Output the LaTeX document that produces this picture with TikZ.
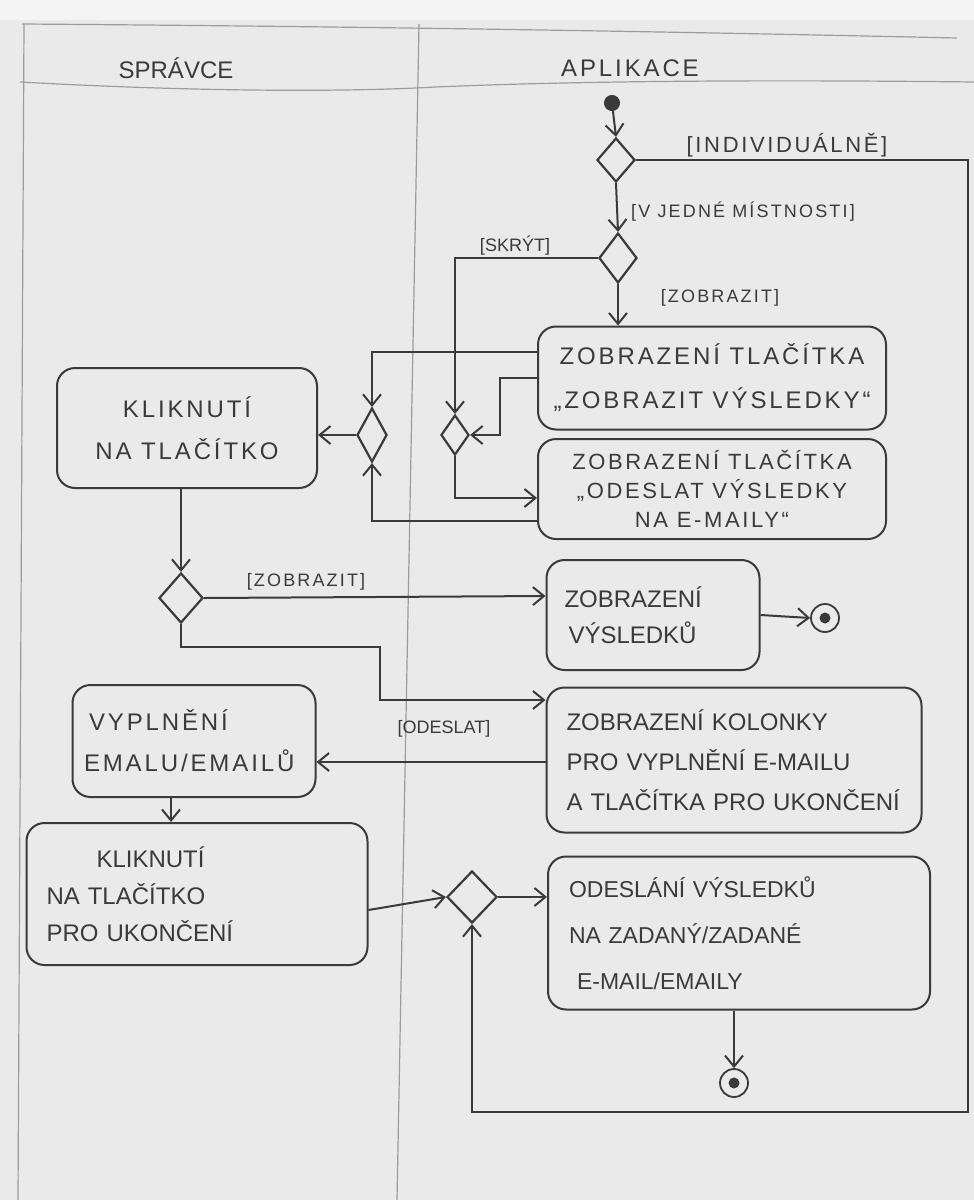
\documentclass[tikz,border=0pt]{standalone}
\usepackage{fontspec}
\setmainfont{Liberation Sans}
\newfontfamily\widehand[LetterSpace=12]{Liberation Sans}
\usetikzlibrary{shapes.geometric,arrows.meta,calc}
\definecolor{paper}{HTML}{EAEAEA}
\definecolor{paperedge}{HTML}{F4F4F4}
\definecolor{ink}{HTML}{3A3A3A}
\definecolor{lane}{HTML}{9C9C9C}
\tikzset{
  act/.style={draw=ink, line width=2pt, rounded corners=18pt, text=ink,
    font=\fontsize{24}{42}\selectfont, align=center, inner sep=0pt},
  decide/.style={shape=diamond, draw=ink, line width=2.2pt, inner sep=0pt},
  startnode/.style={circle, fill=ink, draw=ink, line width=1pt, minimum size=15pt, inner sep=0pt},
  endnode/.style={circle, draw=ink, line width=1.8pt, minimum size=28pt, inner sep=0pt,
    path picture={\fill[ink] (path picture bounding box.center) circle (5.5pt);}},
  flow/.style={draw=ink, line width=2pt, -{Straight Barb[length=11pt,width=18pt,line width=2pt]}},
  guard/.style={text=ink, font=\fontsize{18}{20}\selectfont, inner sep=1pt},
  lanetitle/.style={text=ink, font=\fontsize{24}{26}\selectfont},
  laneline/.style={draw=lane, line width=1.2pt}
}
\begin{document}
\begin{tikzpicture}[x=1pt,y=-1pt]
  % paper
  \fill[paper] (0,0) rectangle (974,1200);
  \fill[paperedge] (0,0) rectangle (974,20);
  \useasboundingbox (0,0) rectangle (974,1200);

  % swimlanes
  \draw[laneline] (22,24) .. controls (300,26) and (600,30) .. (957,38);
  \draw[laneline] (20,82) .. controls (200,92) and (350,92) .. (435,87)
                  .. controls (600,80) and (800,80) .. (974,82);
  \draw[laneline] (24,24) -- (18,1200);
  \draw[laneline] (419,24) -- (397,1200);
  \node[lanetitle] (laneA) at (176,68) {SPRÁVCE};
  \node[lanetitle] (laneB) at (630,68) {\widehand APLIKACE};

  % activities
  \node[act, minimum width=260pt, minimum height=120pt, font=\fontsize{24}{42}\widehand] (kn1) at (187,428)
       {KLIKNUTÍ\\NA TLAČÍTKO};
  \node[act, minimum width=348pt, minimum height=103pt, font=\fontsize{24}{44}\widehand] (b1) at (712,378)
       {ZOBRAZENÍ TLAČÍTKA\\„ZOBRAZIT VÝSLEDKY“};
  \node[act, minimum width=348pt, minimum height=100pt, font=\fontsize{22}{29}\widehand] (b2) at (712,489)
       {ZOBRAZENÍ TLAČÍTKA\\„ODESLAT VÝSLEDKY\\NA E-MAILY“};
  \node[act, minimum width=213pt, minimum height=110pt, text width=177pt, inner xsep=18pt,
        align=left, font=\fontsize{24}{36}\selectfont] (b3) at (653,615)
       {ZOBRAZENÍ\\\hspace*{4pt}VÝSLEDKŮ};
  \node[act, minimum width=375pt, minimum height=145pt, text width=335pt, inner xsep=20pt,
        align=left, font=\fontsize{24}{40}\selectfont] (b4) at (734,760)
       {ZOBRAZENÍ KOLONKY\\PRO VYPLNĚNÍ E-MAILU\\A TLAČÍTKA PRO UKONČENÍ};
  \node[act, minimum width=243pt, minimum height=112pt, text width=220pt, inner xsep=11.5pt,
        align=left, font=\fontsize{24}{41}\widehand] (vy) at (194,741)
       {\hspace*{5pt}VYPLNĚNÍ\\EMALU/EMAILŮ};
  \node[act, minimum width=341pt, minimum height=142pt, text width=301pt, inner xsep=20pt,
        align=left, font=\fontsize{24}{37}\selectfont] (kn2) at (197,894)
       {\hspace*{50pt}KLIKNUTÍ\\NA TLAČÍTKO\\PRO UKONČENÍ};
  \node[act, minimum width=382pt, minimum height=153pt, text width=340pt, inner xsep=21pt,
        align=left, font=\fontsize{23}{46}\selectfont] (b5) at (739,933)
       {ODESLÁNÍ VÝSLEDKŮ\\NA ZADANÝ/ZADANÉ\\\hspace*{8pt}E-MAIL/EMAILY};

  % decisions and merges
  \node[decide, minimum width=38pt, minimum height=44pt] (d1) at (616,160) {};
  \node[decide, minimum width=38pt, minimum height=50pt] (d2) at (618,258) {};
  \node[decide, minimum width=28pt, minimum height=40pt] (d3) at (455,435) {};
  \node[decide, minimum width=30pt, minimum height=54pt] (d4) at (372,435) {};
  \node[decide, minimum width=44pt, minimum height=50pt] (d5) at (181,598) {};
  \node[decide, minimum width=50pt, minimum height=52pt] (d6) at (472,897) {};

  % start and end
  \node[startnode] (s0) at (612,103) {};
  \node[endnode] (f1) at (825,618) {};
  \node[endnode] (f2) at (734,1083) {};

  % flows
  \draw[flow] (s0) -- (d1.north);
  \draw[flow] (d1.east) -| (968,1112) -| (d6.south);
  \node[guard, font=\fontsize{22}{24}\widehand] (gInd) at (787,145) {[INDIVIDUÁLNĚ]};
  \draw[flow] (d1.south) -- (d2.north);
  \node[guard, anchor=west, font=\fontsize{18}{20}\widehand] (gOne) at (630,212) {[V JEDNÉ MÍSTNOSTI]};
  \draw[flow] (d2.west) -| (d3.north);
  \node[guard] (gHide) at (515,246) {[SKRÝT]};
  \draw[flow] (d2.south) -- (d2.south |- b1.north);
  \node[guard, font=\fontsize{18}{20}\widehand] (gShow) at (720,298) {[ZOBRAZIT]};

  \draw[flow] ([yshift=26pt]b1.west) -| (d4.north);
  \draw[flow] (b1.west) -- (500,378) |- (d3.east);
  \draw[flow] (d3.south) |- ([yshift=-9pt]b2.west);
  \draw[flow] ([yshift=-32pt]b2.west) -| (d4.south);
  \draw[flow] (d4.west) -- (kn1.east |- d4.west);

  \draw[flow] (d5.north |- kn1.south) -- (d5.north);
  \draw[flow] (d5.east) -- ([yshift=19pt]b3.west);
  \node[guard, font=\fontsize{18}{20}\widehand] (gShow2) at (306,582) {[ZOBRAZIT]};
  \draw[flow] (b3.east) -- (f1.west);
  \draw[flow] (d5.south) |- (380,647) |- ([yshift=60pt]b4.west);
  \node[guard] (gSend) at (444,729) {[ODESLAT]};

  \draw[flow] ([yshift=-2pt]b4.west) -- ([yshift=-21pt]vy.east);
  \draw[flow] ([xshift=-23pt]vy.south) -- ([xshift=-23pt]vy.south |- kn2.north);
  \draw[flow] ([yshift=-16pt]kn2.east) -- (d6.west);
  \draw[flow] (d6.east) -- (b5.west |- d6.east);
  \draw[flow] (f2.north |- b5.south) -- (f2.north);
\end{tikzpicture}
\end{document}
